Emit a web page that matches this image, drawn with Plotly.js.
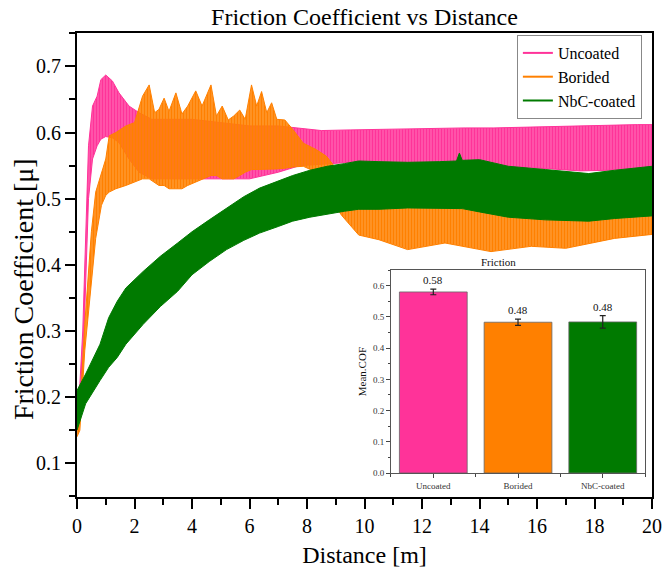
<!DOCTYPE html>
<html>
<head>
<meta charset="utf-8">
<script src="https://cdn.plot.ly/plotly-3.0.1.min.js"></script>
<style>html,body{margin:0;padding:0;background:#fff;}#chart{width:662px;height:568px;}</style>
</head>
<body>
<div id="chart"></div>
<script>
// ---- Series names / colours ----
const seriesNames = ['Uncoated', 'Borided', 'NbC-coated'];
const seriesColors = ['#FF3399', '#FF8000', '#007A00'];

// ---- Uncoated: oscillation band envelope (distance m, upper/lower COF) ----
const uncoatedDist  = [0, 0.1, 0.2, 0.3, 0.4, 0.54, 0.7, 0.83, 1.0, 1.23, 1.46, 1.81, 2.16, 2.6, 3, 4, 5, 6, 7, 7.75, 8.5, 9.5, 10.5, 11.5, 12.5, 13.5, 14.5, 15.5, 16.5, 17.5, 18.5, 19.5, 20];
const uncoatedUpper = [0.20, 0.22, 0.30, 0.45, 0.58, 0.64, 0.655, 0.68, 0.687, 0.678, 0.66, 0.64, 0.63, 0.62, 0.62, 0.62, 0.615, 0.61, 0.61, 0.607, 0.603, 0.604, 0.605, 0.605, 0.606, 0.607, 0.607, 0.608, 0.61, 0.61, 0.611, 0.612, 0.612];
const uncoatedLower = [0.19, 0.20, 0.24, 0.36, 0.50, 0.56, 0.58, 0.59, 0.594, 0.592, 0.585, 0.56, 0.54, 0.53, 0.53, 0.53, 0.53, 0.53, 0.54, 0.55, 0.552, 0.555, 0.555, 0.555, 0.554, 0.552, 0.55, 0.547, 0.545, 0.542, 0.543, 0.546, 0.548];

// ---- Borided ----
const boridedDist  = [0, 0.1, 0.27, 0.5, 0.65, 0.85, 1.0, 1.12, 1.35, 1.7, 2.0, 2.28, 2.51, 2.7, 2.85, 3.03, 3.2, 3.44, 3.65, 3.85, 4.13, 4.35, 4.66, 4.85, 5.05, 5.26, 5.45, 5.66, 5.85, 6.07, 6.25, 6.42, 6.6, 6.77, 6.95, 7.23, 7.52, 7.87, 8.33, 8.68, 9.2, 9.8, 10.5, 11.5, 12.8, 14.4, 15.8, 17.0, 18.7, 20];
const boridedUpper = [0.15, 0.18, 0.31, 0.45, 0.51, 0.54, 0.56, 0.595, 0.60, 0.61, 0.615, 0.655, 0.672, 0.63, 0.635, 0.652, 0.632, 0.66, 0.628, 0.64, 0.663, 0.64, 0.672, 0.625, 0.64, 0.619, 0.625, 0.634, 0.62, 0.672, 0.64, 0.662, 0.63, 0.645, 0.62, 0.619, 0.604, 0.584, 0.574, 0.564, 0.535, 0.51, 0.50, 0.50, 0.50, 0.50, 0.50, 0.50, 0.50, 0.50];
const boridedLower = [0.14, 0.15, 0.27, 0.38, 0.44, 0.49, 0.505, 0.51, 0.515, 0.52, 0.525, 0.53, 0.53, 0.525, 0.52, 0.52, 0.515, 0.515, 0.515, 0.52, 0.525, 0.53, 0.535, 0.535, 0.53, 0.53, 0.53, 0.535, 0.54, 0.544, 0.544, 0.544, 0.544, 0.544, 0.545, 0.546, 0.548, 0.549, 0.54, 0.51, 0.475, 0.445, 0.438, 0.423, 0.433, 0.42, 0.428, 0.425, 0.44, 0.446];

// ---- NbC-coated ----
const nbcDist  = [0, 0.3, 0.8, 1.1, 1.4, 1.7, 2.3, 2.9, 3.5, 4.0, 4.6, 5.2, 5.8, 6.35, 7.0, 7.5, 8.1, 8.7, 9.3, 9.8, 10.5, 11.5, 12.6, 13.2, 13.3, 13.4, 14.0, 15.0, 16.3, 17.8, 18.7, 19.3, 20];
const nbcUpper = [0.21, 0.235, 0.28, 0.32, 0.345, 0.365, 0.39, 0.413, 0.433, 0.45, 0.468, 0.486, 0.503, 0.516, 0.527, 0.535, 0.543, 0.549, 0.553, 0.557, 0.556, 0.555, 0.556, 0.557, 0.569, 0.558, 0.559, 0.549, 0.544, 0.538, 0.543, 0.546, 0.549];
const nbcLower = [0.15, 0.19, 0.225, 0.245, 0.26, 0.28, 0.31, 0.337, 0.36, 0.385, 0.405, 0.423, 0.437, 0.448, 0.458, 0.466, 0.472, 0.477, 0.481, 0.484, 0.484, 0.486, 0.486, 0.486, 0.486, 0.485, 0.48, 0.472, 0.468, 0.466, 0.47, 0.472, 0.474];

// ---- Inset: mean COF ----
const insetCategories = ['Uncoated', 'Borided', 'NbC-coated'];
const insetMeans = [0.580, 0.483, 0.484];
const insetErrors = [0.009, 0.010, 0.020];
const insetLabels = ['0.58', '0.48', '0.48'];

const serif = 'Liberation Serif';

function bandTraces(dist, upper, lower, color, fillcolor, pattern) {
  const upperTrace = {x: dist, y: upper, type: 'scatter', mode: 'lines', line: {color: color, width: 1}, fill: 'tonexty', fillcolor: fillcolor, showlegend: false, hoverinfo: 'skip', xaxis: 'x', yaxis: 'y'};
  if (pattern) upperTrace.fillpattern = pattern;
  return [
    {x: dist, y: lower, type: 'scatter', mode: 'lines', line: {color: color, width: 1}, showlegend: false, hoverinfo: 'skip', xaxis: 'x', yaxis: 'y'},
    upperTrace
  ];
}

const traces = [];
traces.push(...bandTraces(uncoatedDist, uncoatedUpper, uncoatedLower, seriesColors[0], 'rgba(255,51,153,0.7)',
  {shape: '|', fgcolor: seriesColors[0], bgcolor: 'rgba(255,51,153,0.7)', size: 3, solidity: 0.65}));
traces.push(...bandTraces(boridedDist, boridedUpper, boridedLower, seriesColors[1], 'rgba(255,128,0,0.7)',
  {shape: '|', fgcolor: seriesColors[1], bgcolor: 'rgba(255,128,0,0.7)', size: 3, solidity: 0.7}));
traces.push(...bandTraces(nbcDist, nbcUpper, nbcLower, seriesColors[2], 'rgba(0,122,0,1)', null));

// legend-only traces
seriesNames.forEach((n, i) => {
  traces.push({x: [null], y: [null], type: 'scatter', mode: 'lines', name: n, line: {color: seriesColors[i], width: 2}, xaxis: 'x', yaxis: 'y', showlegend: true});
});

const catIdx = insetCategories.map((c, i) => i);
traces.push({
  x: catIdx, y: insetMeans, type: 'bar', xaxis: 'x2', yaxis: 'y2', showlegend: false,
  width: 0.8,
  marker: {color: seriesColors, line: {color: '#666', width: 0.8}},
  error_y: {type: 'data', array: insetErrors, visible: true, color: '#222', thickness: 1.2, width: 3},
  hoverinfo: 'skip'
});

const annotations = catIdx.map((i) => ({
  x: i, y: insetMeans[i] + insetErrors[i], xref: 'x2', yref: 'y2', text: insetLabels[i],
  showarrow: false, yanchor: 'bottom', yshift: 1, font: {family: serif, size: 11, color: '#111'}
}));
annotations.push({
  x: 0.767, y: 0.489, xref: 'paper', yref: 'paper', text: 'Friction', showarrow: false,
  yanchor: 'bottom', yshift: 0, font: {family: serif, size: 11, color: '#111'}
});
// main y-axis title (placed as in the reference, slightly below the axis centre)
annotations.push({
  x: -0.094, y: 0.448, xref: 'paper', yref: 'paper', text: 'Friction Coefficient [μ]', textangle: -90,
  showarrow: false, xanchor: 'center', yanchor: 'middle', font: {family: serif, size: 28, color: '#000'}
});

const layout = {
  width: 662, height: 568,
  margin: {l: 77, r: 10, t: 33, b: 71},
  paper_bgcolor: '#fff', plot_bgcolor: '#fff',
  font: {family: serif, color: '#000'},
  title: {text: 'Friction Coefficient vs Distance', font: {family: serif, size: 24, color: '#000'}, x: 0.5, xref: 'paper', xanchor: 'center', y: 1 - 17/568, yref: 'container', yanchor: 'middle'},
  xaxis: {
    domain: [0, 1], range: [0, 20], tick0: 0, dtick: 2, ticks: 'outside', ticklen: 10, tickwidth: 2, tickcolor: '#000',
    showline: true, linewidth: 2, linecolor: '#000', mirror: true, showgrid: false, zeroline: false,
    minor: {ticks: 'outside', ticklen: 6, tickwidth: 2, dtick: 1, tickcolor: '#000', showgrid: false},
    tickfont: {family: serif, size: 20, color: '#000'},
    title: {text: 'Distance [m]', font: {family: serif, size: 24, color: '#000'}, standoff: 15}
  },
  yaxis: {
    domain: [0, 1], range: [0.049, 0.7505], tick0: 0.1, dtick: 0.1, tickformat: '.1f', ticks: 'outside', ticklen: 10, tickwidth: 2, tickcolor: '#000',
    showline: true, linewidth: 2, linecolor: '#000', mirror: true, showgrid: false, zeroline: false,
    minor: {ticks: 'outside', ticklen: 6, tickwidth: 2, dtick: 0.05, tickcolor: '#000', showgrid: false},
    tickfont: {family: serif, size: 20, color: '#000'}
  },
  xaxis2: {
    domain: [0.546, 0.988], anchor: 'y2', range: [-0.5, 2.5], tickvals: catIdx, ticktext: insetCategories,
    ticks: 'outside', ticklen: 4, tickwidth: 1, tickcolor: '#444',
    minor: {ticks: 'outside', ticklen: 3, tickwidth: 1, dtick: 0.5, tick0: 0.5, tickcolor: '#444', showgrid: false},
    showline: true, linewidth: 1, linecolor: '#555', mirror: true, showgrid: false, zeroline: false,
    tickfont: {family: serif, size: 9, color: '#333'}
  },
  yaxis2: {
    domain: [0.0517, 0.489], anchor: 'x2', range: [0, 0.65], tick0: 0, dtick: 0.1, tickformat: '.1f',
    ticks: 'outside', ticklen: 4, tickwidth: 1, tickcolor: '#444',
    minor: {ticks: 'outside', ticklen: 2, tickwidth: 1, dtick: 0.05, tickcolor: '#444', showgrid: false},
    showline: true, linewidth: 1, linecolor: '#555', mirror: true, showgrid: false, zeroline: false,
    tickfont: {family: serif, size: 9, color: '#333'},
    title: {text: 'Mean.COF', font: {family: serif, size: 11, color: '#111'}, standoff: 4}
  },
  legend: {
    x: 0.765, y: 0.9957, xanchor: 'left', yanchor: 'top', bgcolor: '#fff', bordercolor: '#888', borderwidth: 1,
    font: {family: serif, size: 16, color: '#000'}, tracegroupgap: 0, itemwidth: 30, traceorder: 'normal'
  },
  annotations: annotations
};

Plotly.newPlot('chart', traces, layout, {displayModeBar: false, staticPlot: true});
</script>
</body>
</html>
